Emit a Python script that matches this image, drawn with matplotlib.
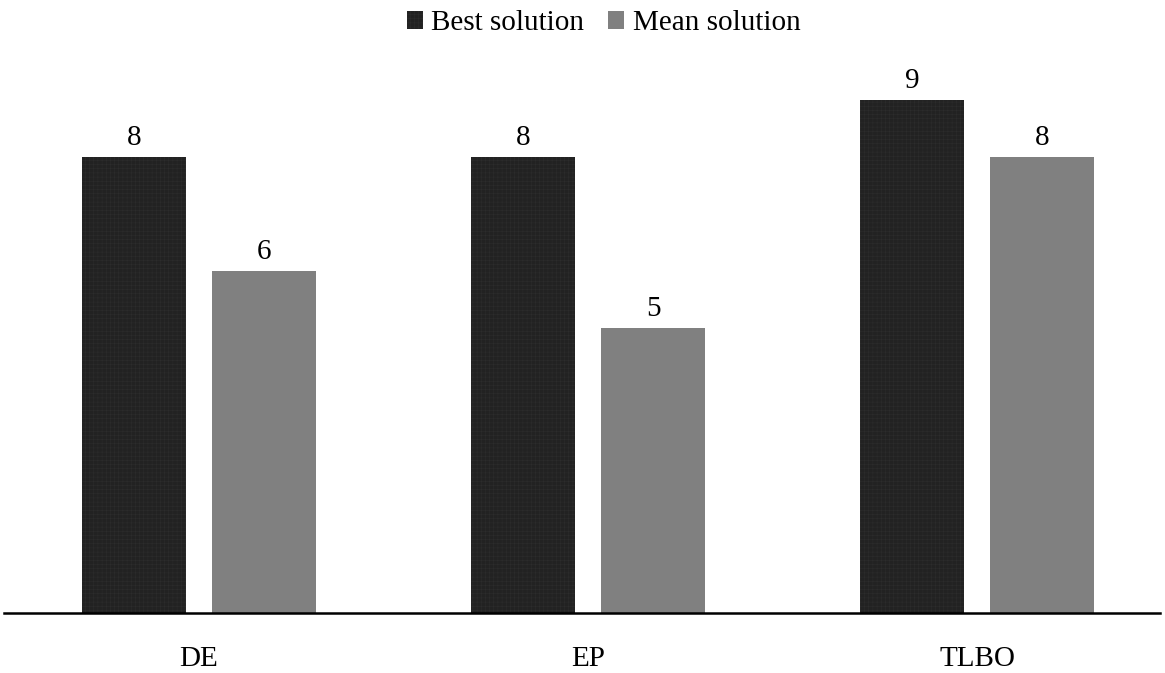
import numpy as np
import matplotlib.pyplot as plt

plt.rcParams['font.family'] = ['Liberation Serif', 'DejaVu Serif']
plt.rcParams['hatch.linewidth'] = 0.4

categories = ['DE', 'EP', 'TLBO']
best = [8, 8, 9]
mean = [6, 5, 8]

fig = plt.figure(figsize=(11.65, 6.73), dpi=100)
ax = fig.add_axes([4 / 1165, 60 / 673, 1156 / 1165, 553 / 673])

x = np.arange(len(categories))
w = 0.267
off = (w + 0.067) / 2

b1 = ax.bar(x - off, best, w, color='#222222', edgecolor='#2c2c2c', hatch='++++',
            linewidth=0, label='Best solution')
b2 = ax.bar(x + off, mean, w, color='#808080', linewidth=0, label='Mean solution')

for bars in (b1, b2):
    for r in bars:
        ax.text(r.get_x() + r.get_width() / 2, r.get_height() + 0.1, f'{r.get_height():g}',
                ha='center', va='bottom', fontsize=21)

ax.set_xlim(-0.501, 2.47)
ax.set_ylim(0, 9.7)
ax.set_xticks(x)
ax.set_xticklabels(categories, fontsize=21)
ax.tick_params(axis='x', length=0, pad=24)
ax.set_yticks([])
for s in ['top', 'right', 'left']:
    ax.spines[s].set_visible(False)
ax.spines['bottom'].set_linewidth(1.8)

fig.legend(loc='upper center', bbox_to_anchor=(0.518, 1.024), ncol=2, frameon=False,
           fontsize=21, handlelength=0.55, handleheight=0.55, handletextpad=0.3,
           columnspacing=0.8)

fig.savefig('out.png', dpi=100)
